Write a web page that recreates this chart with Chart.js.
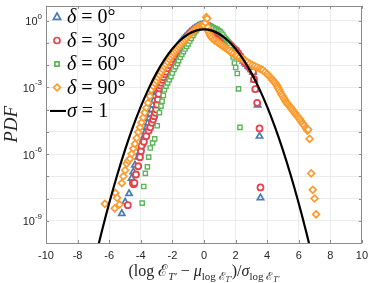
<!DOCTYPE html>
<html>
<head>
<meta charset="utf-8">
<script src="https://cdn.jsdelivr.net/npm/chart.js@4.4.1/dist/chart.umd.min.js"></script>
<style>
  html, body { margin: 0; padding: 0; background: #fff; }
</style>
</head>
<body>
<canvas id="graficoPdf" width="374" height="283"></canvas>
<script>
// ticks
const xTicks = [-10, -8, -6, -4, -2, 0, 2, 4, 6, 8, 10];
const yDecades = [-10, -9, -8, -7, -6, -5, -4, -3, -2, -1, 0];
const yLabelExp = [0, -3, -6, -9];

const legendAngles = ['0°', '30°', '60°', '90°'];

// delta = 0 (log10 of the pdf)
const d0X = [-5.2, -4.99, -4.74, -4.58, -4.47, -4.37, -4.16, -4.08, -4.0, -3.92, -3.85, -3.77, -3.7, -3.62, -3.55, -3.47, -3.4, -3.32, -3.25, -3.17, -3.1, -3.02, -2.95, -2.87, -2.8, -2.7, -2.6, -2.5, -2.4, -2.3, -2.2, -2.1, -2.0, -1.9, -1.8, -1.7, -1.6, -1.5, -1.4, -1.3, -1.2, -1.1, -1.0, -0.9, -0.8, -0.7, -0.6, -0.5, -0.4, -0.3, -0.2, -0.1, 0, 0.1, 0.2, 0.3, 0.4, 0.5, 0.6, 0.7, 0.8, 0.9, 1.0, 1.1, 1.2, 1.3, 1.4, 1.5, 1.6, 1.7, 1.8, 1.9, 2.0, 2.1, 2.2, 2.3, 2.4, 2.5, 2.6, 2.7, 2.8, 2.9, 3.0, 3.11, 3.17, 3.31, 3.4, 3.52, 3.58];
const d0Log = [-8.68, -8.16, -7.78, -7.09, -6.8, -6.5, -6.14, -5.95, -5.75, -5.55, -5.35, -5.18, -5.0, -4.8, -4.6, -4.4, -4.2, -4.0, -3.8, -3.6, -3.4, -3.22, -3.05, -2.9, -2.75, -2.58, -2.4, -2.24, -2.08, -1.94, -1.8, -1.67, -1.55, -1.42, -1.3, -1.19, -1.08, -0.99, -0.9, -0.82, -0.74, -0.67, -0.6, -0.53, -0.47, -0.41, -0.36, -0.31, -0.27, -0.24, -0.21, -0.2, -0.19, -0.2, -0.22, -0.26, -0.3, -0.36, -0.42, -0.48, -0.55, -0.62, -0.7, -0.77, -0.85, -0.92, -1.0, -1.07, -1.15, -1.22, -1.3, -1.37, -1.45, -1.52, -1.6, -1.67, -1.75, -1.82, -1.9, -1.97, -2.05, -2.12, -2.2, -2.33, -2.67, -3.1, -3.8, -5.2, -7.97];

// delta = 30
const d30X = [-4.82, -4.5, -4.45, -4.4, -4.3, -4.16, -4.05, -3.99, -3.95, -3.8, -3.65, -3.5, -3.4, -3.3, -3.22, -3.15, -3.08, -3.02, -2.97, -2.92, -2.87, -2.82, -2.76, -2.7, -2.62, -2.55, -2.47, -2.4, -2.3, -2.2, -2.1, -2.0, -1.9, -1.8, -1.7, -1.6, -1.5, -1.4, -1.3, -1.2, -1.1, -1.0, -0.9, -0.8, -0.7, -0.6, -0.5, -0.4, -0.3, -0.2, -0.1, 0, 0.1, 0.2, 0.3, 0.4, 0.5, 0.6, 0.7, 0.8, 0.9, 1.0, 1.1, 1.2, 1.3, 1.4, 1.5, 1.6, 1.7, 1.8, 1.92, 2.05, 2.17, 2.3, 2.45, 2.59, 2.72, 2.85, 2.98, 3.11, 3.17, 3.25, 3.37, 3.52, 3.58];
const d30Log = [-8.3, -7.3, -7.36, -7.3, -6.92, -6.55, -6.14, -5.87, -5.63, -5.45, -5.2, -4.95, -4.8, -4.6, -4.45, -4.3, -4.15, -4.0, -3.78, -3.55, -3.3, -3.05, -2.92, -2.8, -2.67, -2.55, -2.42, -2.3, -2.15, -2.0, -1.86, -1.72, -1.6, -1.47, -1.36, -1.25, -1.15, -1.05, -0.96, -0.88, -0.8, -0.72, -0.64, -0.57, -0.5, -0.43, -0.37, -0.32, -0.28, -0.24, -0.21, -0.2, -0.21, -0.22, -0.25, -0.28, -0.33, -0.38, -0.44, -0.5, -0.56, -0.62, -0.69, -0.76, -0.83, -0.9, -0.97, -1.05, -1.12, -1.2, -1.27, -1.35, -1.47, -1.6, -1.73, -1.86, -1.97, -2.08, -2.19, -2.3, -2.64, -3.08, -3.7, -4.85, -7.5];

// delta = 60
const d60X = [-3.91, -3.81, -3.71, -3.58, -3.5, -3.4, -3.25, -3.12, -2.96, -2.82, -2.72, -2.65, -2.57, -2.5, -2.4, -2.3, -2.2, -2.09, -2.0, -1.9, -1.8, -1.68, -1.6, -1.5, -1.4, -1.3, -1.2, -1.1, -1.0, -0.9, -0.8, -0.7, -0.6, -0.5, -0.4, -0.3, -0.2, -0.1, 0, 0.1, 0.2, 0.3, 0.4, 0.5, 0.6, 0.72, 0.83, 0.93, 1.03, 1.12, 1.2, 1.3, 1.4, 1.48, 1.55, 1.6, 1.66, 1.71, 1.76, 1.85, 1.93, 2.01, 2.11, 2.19, 2.28];
const d60Log = [-8.21, -7.46, -6.87, -6.58, -6.14, -5.73, -5.5, -5.32, -4.73, -4.14, -3.85, -3.63, -3.37, -3.11, -2.95, -2.8, -2.66, -2.52, -2.36, -2.2, -2.07, -1.94, -1.8, -1.65, -1.52, -1.4, -1.28, -1.16, -1.05, -0.92, -0.8, -0.67, -0.55, -0.45, -0.35, -0.28, -0.22, -0.2, -0.2, -0.21, -0.22, -0.25, -0.28, -0.3, -0.32, -0.36, -0.4, -0.45, -0.5, -0.57, -0.65, -0.75, -0.85, -0.93, -1.0, -1.1, -1.2, -1.32, -1.45, -1.64, -1.91, -2.11, -2.38, -3.07, -4.8];

// delta = 90
const d90X = [-6.27, -5.65, -5.61, -5.5, -5.34, -5.2, -5.1, -4.99, -4.89, -4.78, -4.68, -4.58, -4.47, -4.37, -4.26, -4.16, -4.05, -3.95, -3.85, -3.75, -3.65, -3.54, -3.43, -3.33, -3.2, -3.1, -3.0, -2.9, -2.8, -2.7, -2.6, -2.5, -2.4, -2.3, -2.2, -2.1, -2.0, -1.9, -1.8, -1.7, -1.6, -1.5, -1.4, -1.3, -1.2, -1.1, -1.0, -0.9, -0.8, -0.7, -0.6, -0.5, -0.4, -0.3, -0.2, -0.1, 0, 0.1, 0.15, 0.2, 0.25, 0.3, 0.36, 0.42, 0.5, 0.6, 0.7, 0.83, 0.9, 1.0, 1.1, 1.2, 1.3, 1.4, 1.5, 1.6, 1.73, 1.86, 2.0, 2.1, 2.25, 2.4, 2.5, 2.6, 2.75, 2.9, 3.05, 3.2, 3.35, 3.5, 3.62, 3.73, 3.87, 4.0, 4.1, 4.2, 4.28, 4.35, 4.43, 4.5, 4.58, 4.65, 4.7, 4.76, 4.83, 4.9, 4.97, 5.05, 5.11, 5.17, 5.24, 5.3, 5.38, 5.45, 5.52, 5.59, 5.67, 5.75, 5.82, 5.9, 5.97, 6.05, 6.13, 6.21, 6.28, 6.35, 6.45, 6.52, 6.55, 6.6, 6.69, 6.79, 6.89, 7.0, 7.1];
const d90Log = [-8.24, -8.44, -7.75, -7.97, -8.27, -7.31, -7.0, -6.73, -6.43, -6.3, -6.21, -5.99, -5.75, -5.54, -5.28, -5.02, -4.8, -4.58, -4.36, -4.14, -3.92, -3.7, -3.4, -3.11, -2.95, -2.82, -2.7, -2.57, -2.45, -2.32, -2.2, -2.08, -1.97, -1.86, -1.75, -1.65, -1.55, -1.45, -1.36, -1.27, -1.18, -1.1, -1.02, -0.94, -0.86, -0.78, -0.7, -0.62, -0.55, -0.48, -0.42, -0.37, -0.32, -0.28, -0.25, -0.23, -0.22, -0.1, 0.15, 0.09, -0.3, -0.5, -0.6, -0.69, -0.77, -0.85, -0.9, -0.95, -0.99, -1.05, -1.1, -1.15, -1.2, -1.25, -1.3, -1.35, -1.42, -1.5, -1.55, -1.6, -1.66, -1.72, -1.76, -1.8, -1.87, -1.94, -2.0, -2.05, -2.1, -2.15, -2.19, -2.23, -2.32, -2.4, -2.48, -2.55, -2.61, -2.67, -2.74, -2.8, -2.88, -2.95, -3.03, -3.11, -3.2, -3.3, -3.38, -3.47, -3.55, -3.63, -3.69, -3.75, -3.82, -3.88, -3.94, -4.0, -4.08, -4.15, -4.22, -4.29, -4.35, -4.42, -4.5, -4.58, -4.65, -4.72, -4.82, -4.88, -4.95, -4.9, -5.32, -6.87, -7.61, -8.0, -8.71];

// sigma = 1 reference curve
const sigmaX = [-7, -6.5, -6, -5.5, -5, -4.5, -4, -3.5, -3, -2.5, -2, -1.5, -1, -0.5, 0, 0.5, 1, 1.5, 2, 2.5, 3, 3.5, 4, 4.5, 5, 5.5, 6, 6.5, 7];
const sigmaY = [9.13e-12, 2.67e-10, 6.08e-9, 1.08e-7, 1.49e-6, 1.60e-5, 1.34e-4, 8.73e-4, 4.43e-3, 1.75e-2, 5.40e-2, 0.1295, 0.242, 0.352, 0.399, 0.352, 0.242, 0.1295, 5.40e-2, 1.75e-2, 4.43e-3, 8.73e-4, 1.34e-4, 1.60e-5, 1.49e-6, 1.08e-7, 6.08e-9, 2.67e-10, 9.13e-12];

const azul = '#4a7db2';
const vermelho = '#e5444d';
const verde = '#5db558';
const laranja = '#fd9a2d';
const eixoCor = '#8c8c8c';
const textoCor = '#262626';

function pontos(xs, logs) {
  return xs.map((x, i) => ({ x: x, y: Math.pow(10, logs[i]) }));
}

function serieMarcador(dados, cor, estilo, raio, borda, ordem) {
  return {
    data: dados,
    showLine: false,
    pointStyle: estilo,
    pointRadius: raio,
    pointBorderWidth: borda,
    pointBorderColor: cor,
    pointBackgroundColor: '#ffffff',
    borderColor: cor,
    backgroundColor: '#ffffff',
    order: ordem
  };
}

function fonteSerif(r) {
  return (r.it ? 'italic ' : '') + r.s + 'px "Liberation Serif", "DejaVu Serif", serif';
}

function desenhaRuns(ctx, runs, x, y) {
  let cx = x;
  for (const r of runs) {
    ctx.font = fonteSerif(r);
    ctx.fillText(r.t, cx, y + (r.dy || 0));
    cx += ctx.measureText(r.t).width;
  }
  return cx - x;
}

function larguraRuns(ctx, runs) {
  let w = 0;
  for (const r of runs) {
    ctx.font = fonteSerif(r);
    w += ctx.measureText(r.t).width;
  }
  return w;
}

function marcador(ctx, estilo, x, y, cor) {
  ctx.save();
  ctx.strokeStyle = cor;
  ctx.fillStyle = '#fff';
  ctx.lineWidth = 1.7;
  ctx.beginPath();
  if (estilo === 'triangle') {
    ctx.moveTo(x, y - 4); ctx.lineTo(x + 3.6, y + 2.4); ctx.lineTo(x - 3.6, y + 2.4); ctx.closePath();
  } else if (estilo === 'circle') {
    ctx.arc(x, y, 3, 0, Math.PI * 2);
  } else if (estilo === 'rect') {
    ctx.rect(x - 2.1, y - 2.1, 4.2, 4.2);
  } else {
    ctx.moveTo(x, y - 3.4); ctx.lineTo(x + 3.4, y); ctx.lineTo(x, y + 3.4); ctx.lineTo(x - 3.4, y); ctx.closePath();
  }
  ctx.fill();
  ctx.stroke();
  ctx.restore();
}

const decoracao = {
  id: 'decoracao',
  afterDraw(chart) {
    const ctx = chart.ctx;
    const a = chart.chartArea;
    const sx = chart.scales.x;
    const sy = chart.scales.y;
    ctx.save();

    // caixa e marcas para dentro
    ctx.strokeStyle = eixoCor;
    ctx.lineWidth = 1;
    ctx.beginPath();
    for (const t of xTicks) {
      const px = Math.round(sx.getPixelForValue(t)) + 0.5;
      ctx.moveTo(px, a.bottom); ctx.lineTo(px, a.bottom - 3);
      ctx.moveTo(px, a.top); ctx.lineTo(px, a.top + 3);
    }
    for (const d of yDecades) {
      const py = Math.round(sy.getPixelForValue(Math.pow(10, d))) + 0.5;
      ctx.moveTo(a.left, py); ctx.lineTo(a.left + 3, py);
      ctx.moveTo(a.right, py); ctx.lineTo(a.right - 3, py);
    }
    ctx.stroke();
    ctx.strokeRect(Math.round(a.left) + 0.5, Math.round(a.top) + 0.5, Math.round(a.right - a.left) - 1, Math.round(a.bottom - a.top));

    // rótulos do eixo y com expoente
    ctx.fillStyle = textoCor;
    ctx.textBaseline = 'middle';
    for (const e of yLabelExp) {
      const py = sy.getPixelForValue(Math.pow(10, e));
      ctx.font = '8px "Liberation Sans", Arial, sans-serif';
      const we = ctx.measureText(String(e)).width;
      ctx.textAlign = 'right';
      ctx.fillText(String(e), 42, py - 4);
      ctx.font = '11px "Liberation Sans", Arial, sans-serif';
      ctx.fillText('10', 42 - we, py + 1.5);
    }

    // título do eixo y
    ctx.save();
    ctx.translate(12, (a.top + a.bottom) / 2);
    ctx.rotate(-Math.PI / 2);
    ctx.textAlign = 'center';
    ctx.font = 'italic 19px "Liberation Serif", "DejaVu Serif", serif';
    ctx.fillText('PDF', 0, 0);
    ctx.restore();

    // título do eixo x
    const runsX = [
      { t: '(log ', s: 16 },
      { t: 'ℰ', s: 16 },
      { t: 'T′', s: 11, dy: 4, it: true },
      { t: ' − ', s: 16 },
      { t: 'μ', s: 16, it: true },
      { t: 'log ', s: 11, dy: 4 },
      { t: 'ℰ', s: 11, dy: 4 },
      { t: 'T′', s: 8, dy: 6, it: true },
      { t: ')/', s: 16 },
      { t: 'σ', s: 16, it: true },
      { t: 'log ', s: 11, dy: 4 },
      { t: 'ℰ', s: 11, dy: 4 },
      { t: 'T′', s: 8, dy: 6, it: true }
    ];
    ctx.textAlign = 'left';
    ctx.textBaseline = 'alphabetic';
    const wx = larguraRuns(ctx, runsX);
    desenhaRuns(ctx, runsX, (a.left + a.right) / 2 - wx / 2, 276);

    // legenda
    const cores = [azul, vermelho, verde, laranja];
    const estilos = ['triangle', 'circle', 'rect', 'rectRot'];
    const ys = [17, 40.5, 64, 87.5];
    for (let i = 0; i < 4; i++) {
      marcador(ctx, estilos[i], 57, ys[i], cores[i]);
      ctx.fillStyle = '#000';
      ctx.textBaseline = 'middle';
      desenhaRuns(ctx, [{ t: 'δ', s: 20, it: true }, { t: ' = ' + legendAngles[i], s: 20 }], 67, ys[i] + 1);
    }
    ctx.strokeStyle = '#000';
    ctx.lineWidth = 2;
    ctx.beginPath();
    ctx.moveTo(50, 111); ctx.lineTo(66, 111);
    ctx.stroke();
    desenhaRuns(ctx, [{ t: 'σ', s: 20, it: true }, { t: ' = 1', s: 20 }], 67, 112);

    ctx.restore();
  }
};

const ctx = document.getElementById('graficoPdf');

new Chart(ctx, {
  type: 'scatter',
  data: {
    datasets: [
      serieMarcador(pontos(d0X, d0Log), azul, 'triangle', 3.6, 1.7, 4),
      serieMarcador(pontos(d30X, d30Log), vermelho, 'circle', 3, 1.8, 3),
      serieMarcador(pontos(d60X, d60Log), verde, 'rect', 3, 1.4, 2),
      serieMarcador(pontos(d90X, d90Log), laranja, 'rectRot', 3.4, 1.7, 1),
      {
        data: sigmaX.map((x, i) => ({ x: x, y: sigmaY[i] })),
        showLine: true,
        borderColor: '#000',
        borderWidth: 2.2,
        pointRadius: 0,
        tension: 0.4,
        order: 0
      }
    ]
  },
  options: {
    responsive: false,
    animation: false,
    layout: { padding: { top: 1, right: 6, left: 0, bottom: 0 } },
    plugins: { legend: { display: false }, tooltip: { enabled: false } },
    scales: {
      x: {
        type: 'linear',
        min: -10,
        max: 10,
        ticks: {
          stepSize: 2,
          color: textoCor,
          padding: 6,
          font: { family: '"Liberation Sans", Arial, sans-serif', size: 11 }
        },
        grid: { color: '#ebebeb', drawTicks: false },
        border: { display: false },
        afterFit: s => { s.height = 40; }
      },
      y: {
        type: 'logarithmic',
        min: 1e-10,
        max: 4.6,
        afterBuildTicks: s => { s.ticks = yDecades.map(d => ({ value: Math.pow(10, d) })); },
        ticks: { display: false },
        grid: { color: '#ebebeb', drawTicks: false },
        border: { display: false },
        afterFit: s => { s.width = 46; }
      }
    }
  },
  plugins: [decoracao]
});
</script>
</body>
</html>
